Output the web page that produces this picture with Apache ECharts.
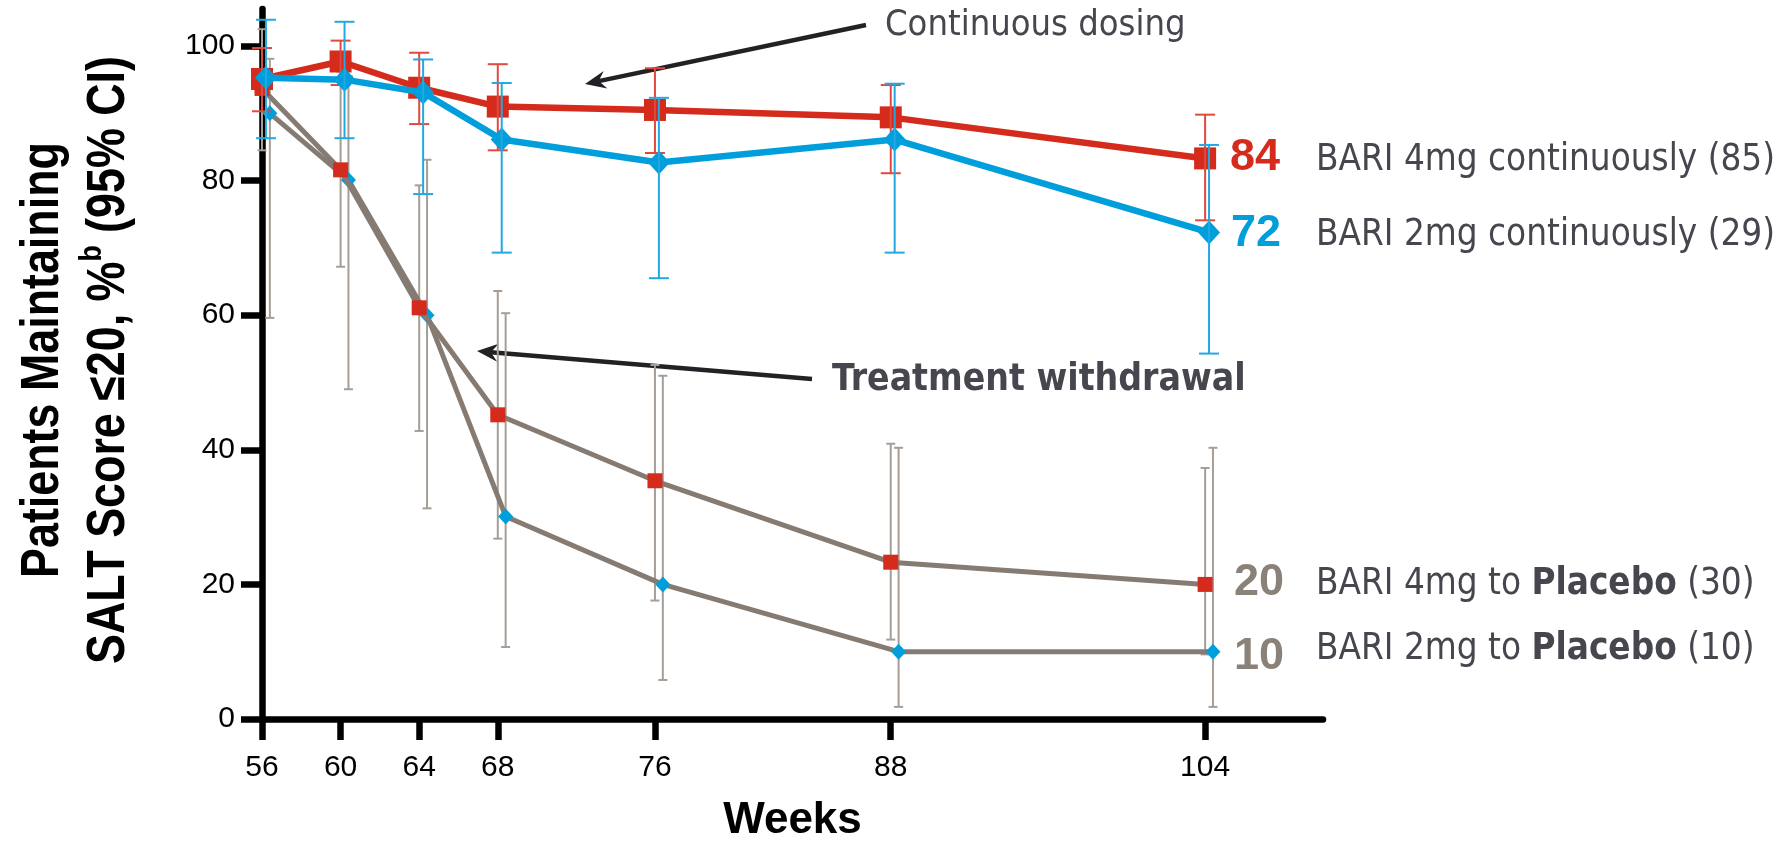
<!DOCTYPE html>
<html><head><meta charset="utf-8">
<script src="https://cdn.jsdelivr.net/npm/echarts@6/dist/echarts.min.js"></script>
<style>html,body{margin:0;padding:0;background:#fff}#c{width:1785px;height:843px}</style>
</head><body><div id="c"></div>
<script>
// ---- data ----
const weeks = [56, 60, 64, 68, 76, 88, 104];
const cont4     = [95.1, 97.7, 93.8, 91.0, 90.5, 89.4, 83.3];
const cont4Low  = [90.3, 94.2, 88.4, 84.5, 84.1, 81.1, 74.1];
const cont4High = [99.7, 100.8, 99.0, 97.3, 96.7, 94.2, 89.8];
const cont2     = [95.3, 95.0, 93.1, 86.1, 82.7, 86.1, 72.3];
const cont2Low  = [86.3, 86.3, 78.0, 69.3, 65.5, 69.3, 54.3];
const cont2High = [103.9, 103.6, 98.0, 94.5, 92.3, 94.4, 85.3];
const plac4     = [93.7, 81.6, 61.1, 45.2, 35.4, 23.3, 20.0];
const plac4Low  = [84.5, 67.2, 42.8, 26.8, 17.6, 11.8, 9.6];
const plac4High = [102.5, 96.2, 79.3, 63.6, 52.6, 40.9, 37.3];
const plac2     = [90.0, 80.1, 60.0, 30.1, 20.0, 10.0, 10.0];
const plac2Low  = [59.6, 49.0, 31.3, 10.7, 5.8, 1.8, 1.8];
const plac2High = [98.1, 95.5, 83.1, 60.3, 51.0, 40.3, 40.3];
const xTicks = [56, 60, 64, 68, 76, 88, 104];
const yTicks = [0, 20, 40, 60, 80, 100];
const endValues = ['84', '72', '20', '10'];
const legendTexts = ['BARI 4mg continuously (85)', 'BARI 2mg continuously (29)',
  'BARI 4mg to {b|Placebo} (30)', 'BARI 2mg to {b|Placebo} (10)'];
const annotations = ['Continuous dosing', 'Treatment withdrawal'];
const yTitle = 'Patients Maintaining\nSALT Score \u226420, %{sup|b} (95% CI)';
const xTitle = 'Weeks';

// ---- style ----
const RED = '#d42b1c', BLUE = '#009fdb', GREY = '#857b72', GREYTXT = '#8a8178', TXT = '#46464f';
const NUMF = '"Liberation Sans", Arial, sans-serif';
const COND = '"DejaVu Sans Condensed", "DejaVu Sans", sans-serif';

const chart = echarts.init(document.getElementById('c'), null, {renderer: 'canvas'});

function errRender(capHalf, color, width) {
  return function (params, api) {
    const x = api.value(0), lo = api.value(1), hi = api.value(2);
    const a = api.coord([x, lo]), b = api.coord([x, hi]);
    const st = {stroke: color, lineWidth: width};
    return {type: 'group', children: [
      {type: 'line', shape: {x1: a[0], y1: a[1], x2: b[0], y2: b[1]}, style: st},
      {type: 'line', shape: {x1: a[0] - capHalf, y1: a[1], x2: a[0] + capHalf, y2: a[1]}, style: st},
      {type: 'line', shape: {x1: b[0] - capHalf, y1: b[1], x2: b[0] + capHalf, y2: b[1]}, style: st}
    ]};
  };
}
function errSeries(lo, hi, xIdx, capHalf, color, z) {
  return {type: 'custom', xAxisIndex: xIdx, yAxisIndex: 0, z: z, clip: false,
    renderItem: errRender(capHalf, color, 2),
    encode: {x: 0, y: [1, 2]},
    data: weeks.map((w, i) => [w, lo[i], hi[i]])};
}
function lineSeries(name, vals, xIdx, lineColor, lineWidth, markColor, symbol, size, z) {
  return {type: 'line', name: name, xAxisIndex: xIdx, yAxisIndex: 0, z: z, clip: false,
    data: weeks.map((w, i) => [w, vals[i]]),
    lineStyle: {color: lineColor, width: lineWidth},
    itemStyle: {color: markColor, opacity: 1},
    symbol: symbol, symbolSize: size, showSymbol: true, animation: false,
    emphasis: {disabled: true}};
}
function arrow(x1, y1, x2, y2) {
  const dx = x2 - x1, dy = y2 - y1, L = Math.hypot(dx, dy), ux = dx / L, uy = dy / L, px = -uy, py = ux;
  const hl = 21, hw = 9, notch = 14, col = '#222226';
  return [
    {type: 'line', shape: {x1: x1, y1: y1, x2: x2 - ux * notch, y2: y2 - uy * notch}, style: {stroke: col, lineWidth: 4.5}},
    {type: 'polygon', shape: {points: [[x2, y2], [x2 - ux * hl + px * hw, y2 - uy * hl + py * hw],
      [x2 - ux * notch, y2 - uy * notch], [x2 - ux * hl - px * hw, y2 - uy * hl - py * hw]]}, style: {fill: col}}
  ];
}
function txt(text, x, y, size, family, weight, color, rich, sx) {
  return {type: 'text', x: x, y: y, z: 20, scaleX: sx || 1, style: {text: text, fontSize: size, fontFamily: family, fontWeight: weight,
    fill: color, textAlign: 'left', textVerticalAlign: 'middle', rich: rich || undefined}};
}
const boldRich = {b: {fontSize: 36.5, fontFamily: COND, fontWeight: 'bold', fill: TXT, color: TXT}};

const hiddenX = (shift) => ({type: 'value', min: 56 - shift, max: 110 - shift, show: false, gridIndex: 0});

const yTitleText = {type: 'text', x: 76, y: 360, rotation: Math.PI / 2, scaleX: 0.83, z: 20,
  style: {text: yTitle, fontSize: 54, fontWeight: 'bold', fontFamily: NUMF, fill: '#000',
    lineHeight: 66, textAlign: 'center', textVerticalAlign: 'middle',
    rich: {sup: {fontSize: 32, fontWeight: 'bold', fontFamily: NUMF, fill: '#000', verticalAlign: 'top', lineHeight: 40}}}};

chart.setOption({
  animation: false,
  backgroundColor: '#fff',
  grid: {left: 262, right: 462, top: 9, bottom: 124, containLabel: false, outerBoundsMode: 'none'},
  xAxis: [
    {type: 'value', min: 56, max: 110, gridIndex: 0,
      axisLine: {show: true, onZero: false, lineStyle: {color: '#000', width: 6.5}},
      axisTick: {show: true, length: 21, customValues: xTicks, lineStyle: {color: '#000', width: 6.5}},
      axisLabel: {customValues: xTicks, margin: 34, fontSize: 30, fontFamily: NUMF, color: '#000'},
      splitLine: {show: false},
      name: xTitle, nameLocation: 'middle', nameGap: 80, nameMoveOverlap: false,
      nameTextStyle: {fontSize: 44, fontWeight: 'bold', fontFamily: NUMF, color: '#000'}},
    hiddenX(0.2), hiddenX(0.4)
  ],
  yAxis: [{type: 'value', min: 0, max: 105.5, position: 'left',
    axisLine: {show: true, onZero: false, lineStyle: {color: '#000', width: 6.5}},
    axisTick: {show: true, length: 21, customValues: yTicks, lineStyle: {color: '#000', width: 6.5}},
    axisLabel: {customValues: yTicks, margin: 27, fontSize: 30, fontFamily: NUMF, color: '#000'},
    splitLine: {show: false}
  }],
  series: [
    errSeries(plac4Low, plac4High, 0, 4.5, '#a69e96', 1),
    errSeries(plac2Low, plac2High, 2, 4.5, '#a69e96', 1),
    lineSeries('BARI 2mg to Placebo', plac2, 2, GREY, 5, BLUE, 'diamond', [15, 16], 2),
    lineSeries('BARI 4mg to Placebo', plac4, 0, GREY, 5, RED, 'rect', 15, 3),
    lineSeries('BARI 4mg continuously', cont4, 0, RED, 6.5, RED, 'rect', 22, 4),
    errSeries(cont4Low, cont4High, 0, 10, '#e0493d', 5),
    lineSeries('BARI 2mg continuously', cont2, 1, BLUE, 6.5, BLUE, 'diamond', [22, 24], 6),
    errSeries(cont2Low, cont2High, 1, 10, '#22a8e2', 7)
  ],
  graphic: [].concat(
    arrow(866, 25, 585, 84),
    arrow(812, 379, 477, 351),
    [
      yTitleText,
      txt(annotations[0], 885, 26, 36, COND, 'normal', TXT),
      txt(annotations[1], 832, 380, 37, COND, 'bold', TXT),
      txt(endValues[0], 1230, 158, 45, NUMF, 'bold', RED),
      txt(endValues[1], 1231, 234, 45, NUMF, 'bold', BLUE),
      txt(endValues[2], 1234, 583, 45, NUMF, 'bold', GREYTXT),
      txt(endValues[3], 1234, 657, 45, NUMF, 'bold', GREYTXT),
      txt(legendTexts[0], 1316, 161, 36.5, COND, 'normal', TXT),
      txt(legendTexts[1], 1316, 236, 36.5, COND, 'normal', TXT),
      txt(legendTexts[2], 1316, 585, 36.5, COND, 'normal', TXT, boldRich),
      txt(legendTexts[3], 1316, 650, 36.5, COND, 'normal', TXT, boldRich)
    ])
});
</script></body></html>
